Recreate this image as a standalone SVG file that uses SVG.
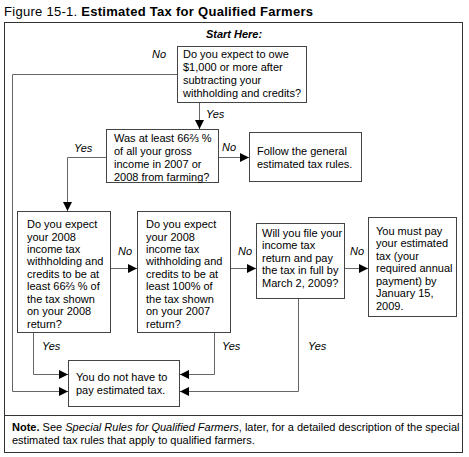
<svg xmlns="http://www.w3.org/2000/svg" width="469" height="457" viewBox="0 0 469 457">
<defs>
<style>
text{font-family:"Liberation Sans",Arial,sans-serif;font-size:11px;fill:#000}
.box{fill:#fff;stroke:#444;stroke-width:1}
.frame{fill:none;stroke:#333;stroke-width:1}
.conn{fill:none;stroke:#666;stroke-width:1}
.lbl{font-style:italic}
</style>
<marker id="ah" viewBox="0 0 10 10" refX="10" refY="5" markerWidth="10" markerHeight="9" markerUnits="userSpaceOnUse" orient="auto">
<path d="M0,0 L10,5 L0,10 Z" fill="#000"/>
</marker>
</defs>
<rect width="469" height="457" fill="#fff"/>
<text x="4" y="16" style="font-size:13px" textLength="309" lengthAdjust="spacing">Figure 15-1. <tspan font-weight="bold">Estimated Tax for Qualified Farmers</tspan></text>
<rect class="frame" x="4.5" y="22.5" width="458" height="430"/>
<line class="frame" x1="4.5" y1="415.5" x2="462.5" y2="415.5"/>
<text x="234" y="38" text-anchor="middle" style="font-weight:bold;font-style:italic">Start Here:</text>

<g id="connectors">
<path class="conn" d="M177.5,74.5 H12.5 V391.5 H68" marker-end="url(#ah)"/>
<path class="conn" d="M199.5,103 V129" marker-end="url(#ah)"/>
<path class="conn" d="M219,157.5 H249" marker-end="url(#ah)"/>
<path class="conn" d="M106,157.5 H67.5 V211" marker-end="url(#ah)"/>
<path class="conn" d="M111,268.5 H137" marker-end="url(#ah)"/>
<path class="conn" d="M231,268.5 H256" marker-end="url(#ah)"/>
<path class="conn" d="M345,268.5 H368" marker-end="url(#ah)"/>
<path class="conn" d="M33.5,333 V374.5 H68" marker-end="url(#ah)"/>
<path class="conn" d="M214.5,333 V374.5 H180" marker-end="url(#ah)"/>
<path class="conn" d="M298.5,299 V391.5 H180" marker-end="url(#ah)"/>
<text class="lbl" x="152" y="58">No</text>
<text class="lbl" x="206" y="118">Yes</text>
<text class="lbl" x="222" y="151">No</text>
<text class="lbl" x="74" y="152">Yes</text>
<text class="lbl" x="118" y="255">No</text>
<text class="lbl" x="238" y="255">No</text>
<text class="lbl" x="350" y="255">No</text>
<text class="lbl" x="42" y="350">Yes</text>
<text class="lbl" x="222" y="350">Yes</text>
<text class="lbl" x="308" y="350">Yes</text>
</g>

<g id="q1">
<rect class="box" x="177.5" y="46.5" width="129" height="56"/>
<text x="183" y="58">Do you expect to owe</text>
<text x="183" y="71">$1,000 or more after</text>
<text x="183" y="84">subtracting your</text>
<text x="183" y="97">withholding and credits?</text>
</g>
<g id="q2">
<rect class="box" x="106.5" y="129.5" width="112" height="53"/>
<text x="114" y="142">Was at least 66⅔ %</text>
<text x="114" y="155">of all your gross</text>
<text x="114" y="168">income in 2007 or</text>
<text x="114" y="180.5">2008 from farming?</text>
</g>
<g id="general">
<rect class="box" x="249.5" y="132.5" width="112" height="49"/>
<text x="257" y="155">Follow the general</text>
<text x="257" y="168">estimated tax rules.</text>
</g>
<g id="q3">
<rect class="box" x="17.5" y="211.5" width="93" height="121"/>
<text x="27" y="228">Do you expect</text>
<text x="27" y="240.5">your 2008</text>
<text x="27" y="253">income tax</text>
<text x="27" y="265">withholding and</text>
<text x="27" y="277.5">credits to be at</text>
<text x="27" y="290">least 66⅔ % of</text>
<text x="27" y="302.5">the tax shown</text>
<text x="27" y="315">on your 2008</text>
<text x="27" y="327.5">return?</text>
</g>
<g id="q4">
<rect class="box" x="137.5" y="211.5" width="93" height="121"/>
<text x="146" y="228">Do you expect</text>
<text x="146" y="240.5">your 2008</text>
<text x="146" y="253">income tax</text>
<text x="146" y="265">withholding and</text>
<text x="146" y="277.5">credits to be at</text>
<text x="146" y="290">least 100% of</text>
<text x="146" y="302.5">the tax shown</text>
<text x="146" y="315">on your 2007</text>
<text x="146" y="327.5">return?</text>
</g>
<g id="q5">
<rect class="box" x="256.5" y="223.5" width="88" height="75"/>
<text x="262" y="236.5">Will you file your</text>
<text x="262" y="249">income tax</text>
<text x="262" y="261.5">return and pay</text>
<text x="262" y="274">the tax in full by</text>
<text x="262" y="286.5">March 2, 2009?</text>
</g>
<g id="mustpay">
<rect class="box" x="368.5" y="217.5" width="88" height="99"/>
<text x="376" y="234.5">You must pay</text>
<text x="376" y="247">your estimated</text>
<text x="376" y="259.5">tax (your</text>
<text x="376" y="272">required annual</text>
<text x="376" y="284.5">payment) by</text>
<text x="376" y="297">January 15,</text>
<text x="376" y="309.5">2009.</text>
</g>
<g id="nopay">
<rect class="box" x="68.5" y="360.5" width="111" height="46"/>
<text x="76" y="381">You do not have to</text>
<text x="76" y="394">pay estimated tax.</text>
</g>
<g id="note">
<text x="12" y="431"><tspan font-weight="bold">Note.</tspan> See <tspan font-style="italic">Special Rules for Qualified Farmers</tspan>, later, for a detailed description of the special</text>
<text x="12" y="444">estimated tax rules that apply to qualified farmers.</text>
</g>
</svg>
